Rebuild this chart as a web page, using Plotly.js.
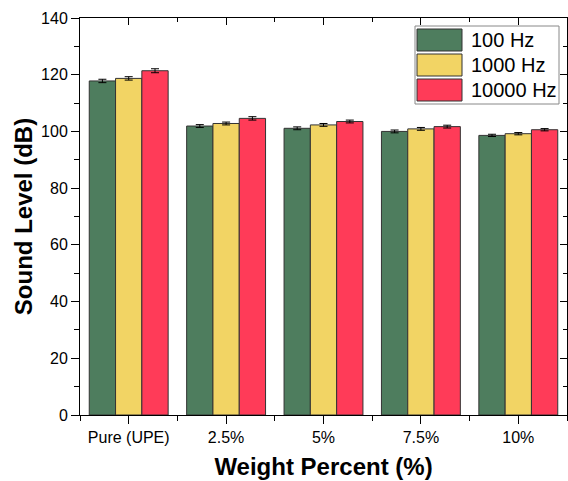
<!DOCTYPE html>
<html>
<head>
<meta charset="utf-8">
<script src="https://cdn.plot.ly/plotly-3.0.1.min.js"></script>
<style>html,body{margin:0;padding:0;background:#fff;}#chart{width:568px;height:481px;}</style>
</head>
<body>
<div id="chart"></div>
<script>
const categories = ["Pure (UPE)", "2.5%", "5%", "7.5%", "10%"];
const seriesNames = ["100 Hz", "1000 Hz", "10000 Hz"];
const hz100 = [117.8, 101.9, 101.1, 100.0, 98.6];
const hz1000 = [118.7, 102.8, 102.3, 100.9, 99.2];
const hz10000 = [121.4, 104.6, 103.5, 101.7, 100.6];
const err100 = [0.6, 0.5, 0.5, 0.5, 0.4];
const err1000 = [0.6, 0.5, 0.5, 0.5, 0.4];
const err10000 = [0.7, 0.6, 0.5, 0.5, 0.4];
const colors = ["#4E7D5E", "#F2D464", "#FF3B58"];

const values = [hz100, hz1000, hz10000];
const errs = [err100, err1000, err10000];
const xIdx = categories.map((c, i) => i);

const traces = values.map((v, k) => ({
  type: "bar",
  name: seriesNames[k],
  x: xIdx,
  y: v,
  marker: {color: colors[k], line: {color: "#333333", width: 1}},
  error_y: {type: "data", array: errs[k], visible: true, color: "#000", thickness: 1, width: 4},
  showlegend: false,
  hoverinfo: "skip"
}));
traces.push({type: "scatter", x: [], y: [], xaxis: "x2", yaxis: "y2", showlegend: false, hoverinfo: "skip"});

// plot area in pixels
const L = 80, R = 567, T = 18, B = 415;
const px = x => (x - L) / (R - L);
const py = y => (B - y) / (B - T);

const shapes = [];
const annotations = [];
shapes.push({type: "rect", xref: "paper", yref: "paper", x0: px(415), x1: px(559), y0: py(104), y1: py(26),
  line: {color: "#888", width: 1}, fillcolor: "#fff"});
seriesNames.forEach((n, k) => {
  const top = 29 + k * 25;
  shapes.push({type: "rect", xref: "paper", yref: "paper", x0: px(417), x1: px(462), y0: py(top + 22), y1: py(top),
    line: {color: "#333", width: 1}, fillcolor: colors[k]});
  annotations.push({xref: "paper", yref: "paper", x: px(469), y: py(top + 11), xanchor: "left", yanchor: "middle",
    text: n, showarrow: false, font: {family: "Liberation Sans, Arial, sans-serif", size: 20, color: "#000"}});
});

const tickFont = {family: "Liberation Sans, Arial, sans-serif", size: 16, color: "#000"};
const titleFont = {family: "Liberation Sans, Arial, sans-serif", size: 24, color: "#000", weight: "bold"};

const layout = {
  width: 568, height: 481,
  margin: {l: L, r: 568 - R, t: T, b: 481 - B, pad: 0},
  paper_bgcolor: "#fff", plot_bgcolor: "#fff",
  barmode: "group", bargap: 0.19, bargroupgap: 0,
  xaxis: {
    type: "linear", range: [-0.5, 4.5], tickvals: xIdx, ticktext: categories,
    ticks: "outside", ticklen: 8, tickwidth: 1, tickcolor: "#000",
    minor: {tick0: 0.5, dtick: 1, ticks: "outside", ticklen: 5, tickcolor: "#000", showgrid: false},
    showline: true, linecolor: "#000", linewidth: 1, showgrid: false, zeroline: false,
    tickfont: tickFont, automargin: false,
    title: {text: "Weight Percent (%)", font: titleFont, standoff: 12}
  },
  yaxis: {
    range: [0, 140], dtick: 20, tick0: 0,
    ticks: "outside", ticklen: 8, tickwidth: 1, tickcolor: "#000",
    minor: {dtick: 10, ticks: "outside", ticklen: 5, tickcolor: "#000", showgrid: false},
    showline: true, linecolor: "#000", linewidth: 1, showgrid: false, zeroline: false,
    tickfont: tickFont, automargin: false,
    title: {text: "Sound Level (dB)", font: titleFont, standoff: 1}
  },
  xaxis2: {
    overlaying: "x", side: "top", anchor: "y2", matches: "x", type: "linear", range: [-0.5, 4.5],
    tickvals: xIdx, showticklabels: false,
    ticks: "inside", ticklen: 7, tickcolor: "#000",
    minor: {tick0: 0.5, dtick: 1, ticks: "inside", ticklen: 4, tickcolor: "#000", showgrid: false},
    showline: true, linecolor: "#000", linewidth: 1, showgrid: false, zeroline: false
  },
  yaxis2: {
    overlaying: "y", side: "right", anchor: "x2", range: [0, 140], dtick: 20, tick0: 0,
    showticklabels: false,
    ticks: "inside", ticklen: 7, tickcolor: "#000",
    minor: {dtick: 10, ticks: "inside", ticklen: 4, tickcolor: "#000", showgrid: false},
    showline: true, linecolor: "#000", linewidth: 1, showgrid: false, zeroline: false
  },
  shapes: shapes,
  annotations: annotations,
  showlegend: false
};

Plotly.newPlot("chart", traces, layout, {staticPlot: true, displayModeBar: false});
</script>
</body>
</html>
